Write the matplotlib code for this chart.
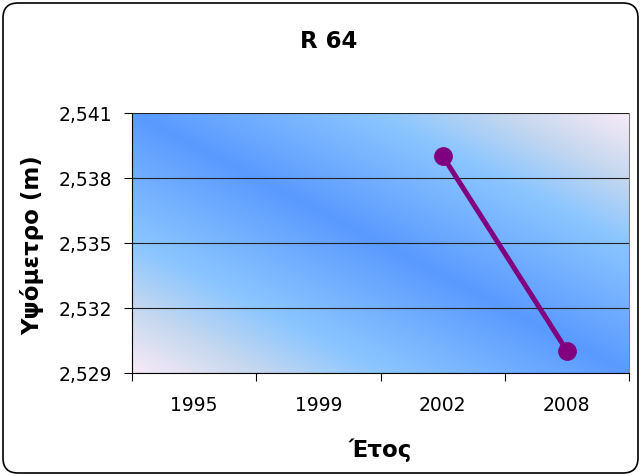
import numpy as np
import matplotlib
matplotlib.use('Agg')
import matplotlib.pyplot as plt
from matplotlib.patches import FancyBboxPatch
from matplotlib.transforms import IdentityTransform
from matplotlib.colors import LinearSegmentedColormap

# data
years = ['1995', '1999', '2002', '2008']
heights = [np.nan, np.nan, 2.53902, 2.53003]
y_ticks = [2.529, 2.532, 2.535, 2.538, 2.541]
y_labels = ['2,529', '2,532', '2,535', '2,538', '2,541']

fig = plt.figure(figsize=(6.42, 4.77), dpi=100)
ax = fig.add_axes([132 / 642, 1 - 374 / 477, 497 / 642, 260 / 477])

# rounded outer border
border = FancyBboxPatch((3, 3), 635, 470, boxstyle='round,pad=0,rounding_size=15',
                        transform=IdentityTransform(), facecolor='white',
                        edgecolor='black', linewidth=1.2, zorder=-10)
fig.patches.append(border)

# diagonal gradient background
cmap = LinearSegmentedColormap.from_list('bg', [
    (0.0, '#5a9aff'), (0.5, '#8cc6ff'), (0.75, '#c6d8ef'), (1.0, '#f8eaf7')])
xx, yy = np.meshgrid(np.linspace(0, 1, 300), np.linspace(0, 1, 200))
u = np.abs(xx - yy)
ax.imshow(u, cmap=cmap, extent=[-0.5, 3.5, 2.529, 2.541], origin='upper',
          aspect='auto', zorder=0, vmin=0, vmax=1)

x = np.arange(len(years))
ax.plot(x, heights, color='#800080', linewidth=3.6, marker='o', markersize=12.5,
        zorder=3)

ax.set_xlim(-0.5, 3.5)
ax.set_ylim(2.529, 2.541)

ax.set_yticks(y_ticks)
ax.set_yticklabels(y_labels, fontsize=13.5)
ax.yaxis.grid(True, color='#222222', linewidth=0.8)
for line in ax.get_ygridlines():
    line.set_zorder(1)

# category axis: ticks between categories, labels centred
ax.set_xticks(np.arange(-0.5, 4, 1))
ax.set_xticklabels([])
ax.set_xticks(x, minor=True)
ax.set_xticklabels(years, minor=True, fontsize=13.5)
ax.tick_params(axis='x', which='major', direction='out', length=6, color='black')
ax.tick_params(axis='x', which='minor', length=0, pad=16)
ax.tick_params(axis='y', direction='out', length=6, pad=8)

ax.spines['top'].set_visible(False)
ax.spines['right'].set_color('#808080')
ax.spines['left'].set_color('black')
ax.spines['bottom'].set_color('black')

fig.text(329 / 642, 1 - 48 / 477, 'R 64', ha='center', va='baseline',
         fontsize=16.5, fontweight='bold')
fig.text(32 / 642, 1 - 245 / 477, 'Υψόμετρο (m)', ha='center', va='center',
         rotation=90, fontsize=16.5, fontweight='bold')
fig.text(380 / 642, 1 - 457 / 477, 'Έτος', ha='center', va='baseline',
         fontsize=16.5, fontweight='bold')

fig.savefig('out.png', dpi=100)
